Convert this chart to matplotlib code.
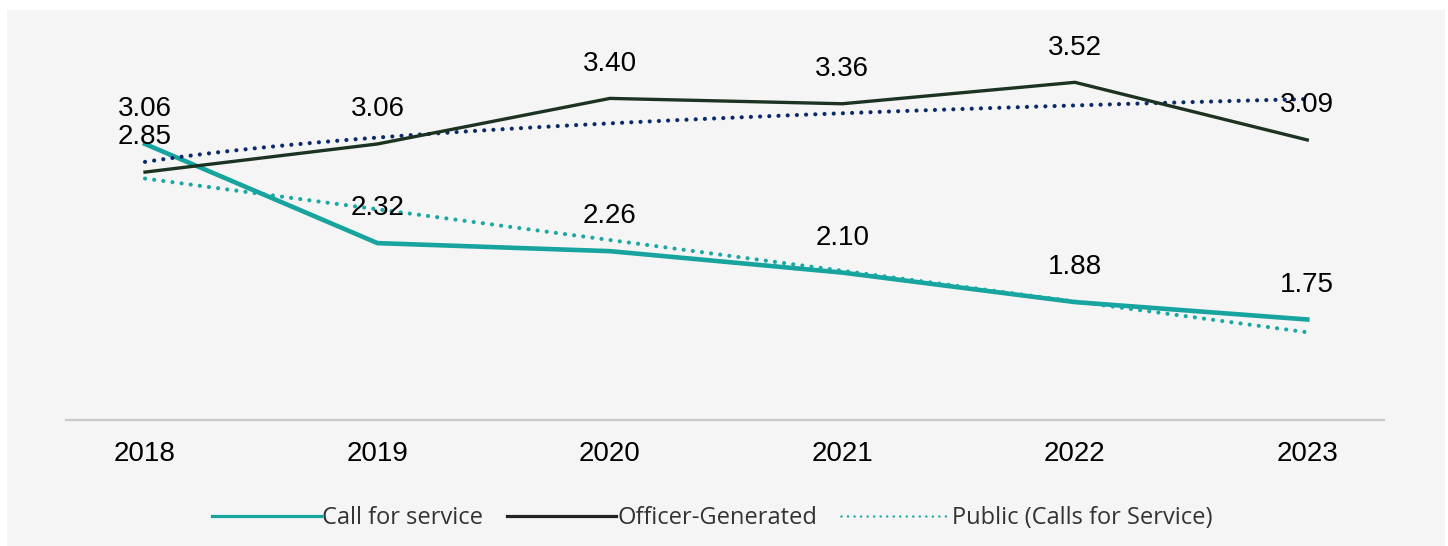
import numpy as np
import matplotlib
matplotlib.use("Agg")
import matplotlib.pyplot as plt
from matplotlib.patches import Rectangle
from matplotlib.lines import Line2D

# ---- data ----
years = ["2018", "2019", "2020", "2021", "2022", "2023"]
call_for_service = [3.06, 2.32, 2.26, 2.10, 1.88, 1.75]
officer_generated = [2.85, 3.06, 3.40, 3.36, 3.52, 3.09]
legend_labels = ["Call for service", "Officer-Generated", "Public (Calls for Service)"]

# ---- style ----
TEAL = "#17A39E"
TEAL_DOT = "#1AA8A4"
DARK = "#1D3322"
NAVY = "#0C2A68"
W, H = 1448, 546

fig = plt.figure(figsize=(W / 100, H / 100), dpi=100)
fig.patch.set_facecolor("white")
fig.add_artist(Rectangle((7 / W, 0), (1445 - 7) / W, (546 - 10) / H,
                         transform=fig.transFigure, facecolor="#f5f5f5",
                         edgecolor="none", zorder=-10))

ax = fig.add_axes([66 / W, 1 - 420 / H, (1384 - 66) / W, (420 - 18) / H])
ax.set_facecolor("none")

x = np.arange(len(years))
xs = np.linspace(x[0], x[-1], 300)

# series lines
ax.plot(x, call_for_service, color=TEAL, lw=3.3, solid_joinstyle="miter", zorder=3)
ax.plot(x, officer_generated, color=DARK, lw=2.4, solid_joinstyle="miter", zorder=5)

# trendlines (linear for calls, logarithmic for officer-generated)
c_lin = np.polyfit(x, call_for_service, 1)
ax.plot(xs, np.polyval(c_lin, xs), color=TEAL_DOT, lw=3.0,
        linestyle=(0, (0.01, 2.2)), dash_capstyle="round", zorder=4)
c_log = np.polyfit(np.log(x + 1), officer_generated, 1)
ax.plot(xs, c_log[0] * np.log(xs + 1) + c_log[1], color=NAVY, lw=3.0,
        linestyle=(0, (0.01, 2.2)), dash_capstyle="round", zorder=4)

# data labels
for xi, v in zip(x, call_for_service):
    ax.annotate(f"{v:.2f}", (xi, v), xytext=(0, 25), textcoords="offset points",
                ha="center", va="center", fontsize=20, family="Liberation Sans",
                color="black", zorder=6)
for xi, v in zip(x, officer_generated):
    ax.annotate(f"{v:.2f}", (xi, v), xytext=(0, 25), textcoords="offset points",
                ha="center", va="center", fontsize=20, family="Liberation Sans",
                color="black", zorder=6)

ax.set_xlim(-0.34, 5.33)
ax.set_ylim(1.0, 4.0)
ax.set_yticks([])
ax.set_xticks(x)
ax.set_xticklabels(years, fontsize=20, family="Liberation Sans")
ax.tick_params(axis="x", length=0, pad=15)
for s in ["top", "right", "left"]:
    ax.spines[s].set_visible(False)
ax.spines["bottom"].set_color("#c8c8c8")
ax.spines["bottom"].set_linewidth(1.6)

handles = [
    Line2D([], [], color=TEAL, lw=2.3),
    Line2D([], [], color="#222222", lw=2.3),
    Line2D([], [], color=TEAL_DOT, lw=1.8, linestyle=(0, (0.01, 2.6)), dash_capstyle="round"),
]
leg = fig.legend(handles, legend_labels, loc="center", bbox_to_anchor=(712 / W, 1 - 518 / H),
                 ncol=3, frameon=False, prop={"family": "Open Sans", "size": 17},
                 handlelength=4.6, handletextpad=0.08, columnspacing=1.0,
                 labelcolor="#333333")

fig.savefig("out.png", dpi=100, facecolor=fig.get_facecolor())
